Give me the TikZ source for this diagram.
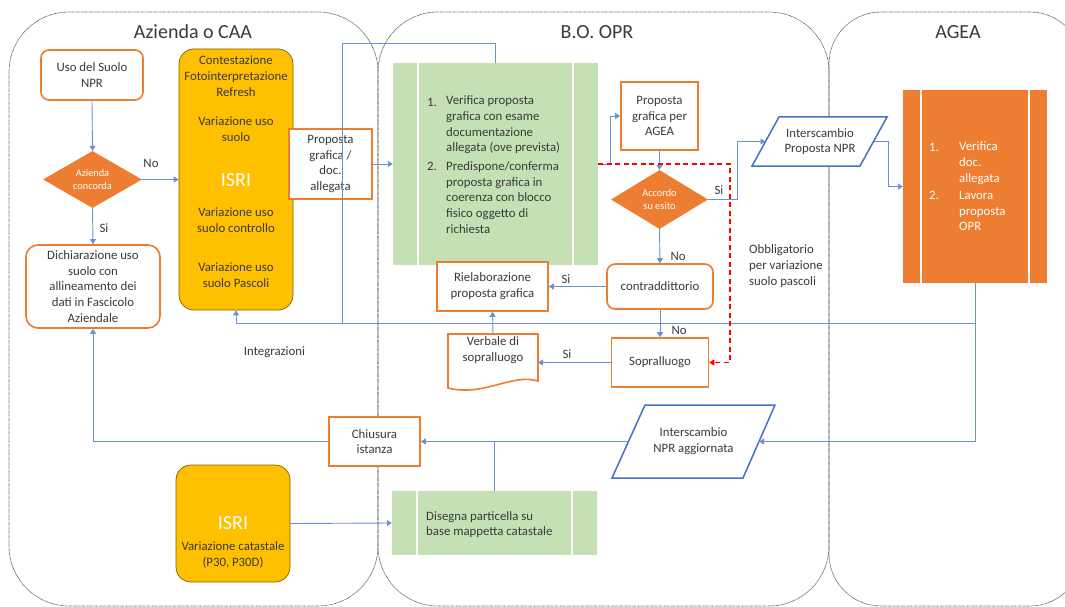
\documentclass[tikz,border=0pt]{standalone}
\usepackage{fontspec}
\setmainfont{Carlito}
\usetikzlibrary{arrows.meta,shapes.geometric}
\definecolor{orgB}{HTML}{ED7D31}
\definecolor{yel}{HTML}{FFC000}
\definecolor{yelB}{HTML}{7F6000}
\definecolor{grn}{HTML}{C5E0B4}
\definecolor{blu}{HTML}{4472C4}
\definecolor{lnc}{HTML}{6F8FD3}
\definecolor{tx}{HTML}{3A3A3A}
\definecolor{lanec}{HTML}{44546A}
\newcommand\bodyf{\fontsize{12.8}{15.7}\selectfont}
\newcommand\smallf{\fontsize{10.3}{13}\selectfont}
\newcommand\bigf{\fontsize{20}{24}\selectfont}
\begin{document}
\begin{tikzpicture}[x=1pt,y=-1pt,
  txt/.style={font=\bodyf, text=tx, align=center, inner sep=0pt},
  ltxt/.style={font=\bodyf, text=tx, align=left, inner sep=0pt, anchor=west},
  wtxt/.style={font=\bodyf, text=white, align=left, inner sep=0pt, anchor=west},
  obox/.style={draw=orgB, line width=1.6pt, fill=white, inner sep=0pt, align=center, font=\bodyf, text=tx},
  rbox/.style={obox, rounded corners=8pt},
  ybox/.style={draw=yelB, line width=0.7pt, fill=yel, rounded corners=15pt, inner sep=0pt},
  gbox/.style={fill=grn, inner sep=0pt},
  agbox/.style={fill=orgB, inner sep=0pt},
  dia/.style={diamond, fill=orgB, inner sep=0pt, text=white, font=\smallf, align=center},
  para/.style={draw=blu, line width=1.5pt, fill=white, line join=miter},
  arr/.style={draw=lnc, line width=0.9pt, -{Triangle[width=6pt,length=5pt]}},
  ln/.style={draw=lnc, line width=0.9pt},
  redarr/.style={draw=red, line width=1.1pt, dash pattern=on 5pt off 3.5pt, -{Triangle[width=6pt,length=5pt]}},
  lane/.style={draw=lanec, line width=0.7pt, dash pattern=on 0.7pt off 0.6pt, rounded corners=60pt},
  lbl/.style={font=\bodyf, text=tx, inner sep=0pt},
  ttl/.style={font=\bigf, text=tx, inner sep=0pt}
]
\useasboundingbox (0,0) rectangle (1065,607);
\clip (0,0) rectangle (1065,607);

% swimlanes
\draw[lane] (9,12) rectangle (378,606);
\draw[lane] (378,12) rectangle (829,606);
\draw[lane, rounded corners=52pt] (829,12) rectangle (1082,606);
\node[ttl] (t1) at (193,32) {Azienda o CAA};
\node[ttl] (t2) at (597,32) {B.O. OPR};
\node[ttl] (t3) at (958,32) {AGEA};

% left lane
\node[rbox, minimum width=102pt, minimum height=50pt] (uso) at (92,75) {Uso del Suolo\\NPR};
\node[dia, minimum width=99pt, minimum height=57pt, aspect=1.74] (az) at (92.5,179.5) {Azienda\\concorda};
\node[rbox, rounded corners=12pt, minimum width=134pt, minimum height=83pt] (dich) at (93,286.5) {Dichiarazione uso\\suolo con\\allineamento dei\\dati in Fascicolo\\Aziendale};
\node[ybox, minimum width=114pt, minimum height=261pt] (isri) at (236,179.5) {};
\node[txt] (i1) at (236,76) {Contestazione\\Fotointerpretazione\\Refresh};
\node[txt] (i2) at (236,129) {Variazione uso\\suolo};
\node[ttl, text=white] (i3) at (236,180) {ISRI};
\node[txt] (i4) at (236,220) {Variazione uso\\suolo controllo};
\node[txt] (i5) at (236,275) {Variazione uso\\suolo Pascoli};
\node[obox, minimum width=83pt, minimum height=70pt] (prop) at (330.5,164) {Proposta\\grafica /\\doc.\\allegata};
\node[ybox, minimum width=114pt, minimum height=117pt] (isri2) at (233,523.5) {};
\node[ttl, text=white] (j1) at (233,523) {ISRI};
\node[txt] (j2) at (233,555) {Variazione catastale\\(P30, P30D)};
\node[obox, minimum width=91pt, minimum height=49pt] (chius) at (374.5,441.5) {Chiusura\\istanza};
\node[lbl] (integ) at (274.5,352) {Integrazioni};

% middle lane
\node[gbox, minimum width=205pt, minimum height=202pt] (g1) at (495.5,164) {};
\draw[white, line width=1.5pt] (418,63) -- (418,265) (573,63) -- (573,265);
\node[ltxt] (g1n1) at (427,102) {1.};
\node[ltxt] (g1a) at (446,125) {Verifica proposta\\grafica con esame\\documentazione\\allegata (ove prevista)};
\node[ltxt] (g1n2) at (427,166) {2.};
\node[ltxt] (g1b) at (446,197.5) {Predispone/conferma\\proposta grafica in\\coerenza con blocco\\fisico oggetto di\\richiesta};
\node[obox, minimum width=77pt, minimum height=68pt] (pAGEA) at (659.5,116) {Proposta\\grafica per\\AGEA};
\node[dia, minimum width=97pt, minimum height=59pt, aspect=1.64] (acc) at (659.5,199.5) {Accordo\\su esito};
\node[rbox, minimum width=106pt, minimum height=45pt] (contr) at (660,286.5) {contraddittorio};
\node[obox, minimum width=111pt, minimum height=49pt] (riel) at (492.5,286.5) {Rielaborazione\\proposta grafica};
\draw[draw=orgB, line width=1.6pt, fill=white] (448,334) -- (538,334) -- (538,381) .. controls (512,373) and (484,397) .. (448,388) -- cycle;
\node[txt] (verb) at (493,350) {Verbale di\\sopralluogo};
\coordinate (verbN) at (493,334);
\coordinate (verbE) at (538,362.5);
\node[obox, minimum width=97pt, minimum height=49pt] (sopr) at (660,362.5) {Sopralluogo};
\draw[para] (612,478) -- (645,405) -- (775,405) -- (743,478) -- cycle;
\node[txt] (npra) at (693.5,441) {Interscambio\\NPR aggiornata};
\coordinate (npraW) at (628.5,441.5);
\coordinate (npraE) at (759,441.5);
\node[gbox, minimum width=205pt, minimum height=64pt] (dis) at (494.5,523) {};
\draw[white, line width=1.5pt] (417,491) -- (417,555) (572,491) -- (572,555);
\node[ltxt] (dist) at (426,524.5) {Disegna particella su\\base mappetta catastale};

% right lane
\draw[para] (752,166) -- (779,117) -- (887,117) -- (860,166) -- cycle;
\node[txt] (npr) at (820,141.5) {Interscambio\\Proposta NPR};
\coordinate (nprW) at (765.5,141.5);
\coordinate (nprE) at (873.5,141.5);
\node[agbox, minimum width=144pt, minimum height=193pt] (agea) at (975,186.5) {};
\draw[white, line width=1.5pt] (921,90) -- (921,283) (1029,90) -- (1029,283);
\node[wtxt] (a1n) at (929,147) {1.};
\node[wtxt] (a1) at (959,163) {Verifica\\doc.\\allegata};
\node[wtxt] (a2n) at (929,195) {2.};
\node[wtxt] (a2) at (959,211) {Lavora\\proposta\\OPR};
\node[ltxt] (obb) at (749,266) {Obbligatorio\\per variazione\\suolo pascoli};

% connectors
\coordinate (cTL) at (342,43);
\coordinate (cBL) at (342,323);
\coordinate (aJ) at (975,323);
\coordinate (aB) at (975,441.5);
\coordinate (cR1) at (730,164);
\coordinate (cR2) at (730,362.5);

\draw[arr] (uso.south) -- (az.north);
\draw[arr] (az.south) -- (dich.north);
\node[lbl] (lsi1) at (104,228) {Si};
\draw[arr] (az.east) -- (isri.west);
\node[lbl] (lno1) at (151,163) {No};
\draw[arr] (prop.east) -- (g1.west);
\draw[ln] (g1.north) |- (cTL) -- (cBL);
\draw[ln] (agea.south) -- (aB);
\draw[arr] (aB) -- (npraE);
\draw[arr] (aJ) -| (isri.south);
\draw[arr] (g1.east) -- ++(12,0) |- (pAGEA.west);
\draw[arr] (pAGEA.south) -- (acc.north);
\draw[arr] (acc.east) -- ++(29,0) |- (nprW);
\node[lbl] (lsi2) at (719,190) {Si};
\draw[arr] (nprE) -- ++(14.5,0) |- (agea.west);
\draw[arr] (acc.south) -- (contr.north);
\node[lbl] (lno2) at (678,256) {No};
\draw[arr] (contr.west) -- (riel.east);
\node[lbl] (lsi3) at (566,279) {Si};
\draw[arr] (contr.south) -- (sopr.north);
\node[lbl] (lno3) at (679,330) {No};
\draw[arr] (sopr.west) -- (verbE);
\node[lbl] (lsi4) at (567,354) {Si};
\draw[arr] (verbN) -- (riel.south);
\draw[redarr] (g1.east) -- (cR1) -- (cR2) -- (sopr.east);
\draw[arr] (npraW) -- (chius.east);
\draw[ln] (dis.north) -- (dis.north |- chius.east);
\draw[arr] (chius.west) -| (dich.south);
\draw[arr] (isri2.east) -- (dis.west);
\end{tikzpicture}
\end{document}
